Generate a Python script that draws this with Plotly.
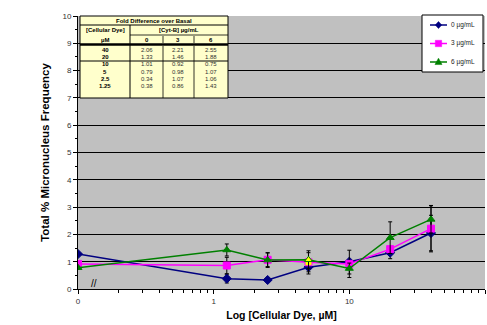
import plotly.graph_objects as go

# ---- data ----
dye_uM = [0.1, 1.25, 2.5, 5, 10, 20, 40]   # 0.1 plotted position stands for "0"
series_names = ["0 µg/mL", "3 µg/mL", "6 µg/mL"]
mn_0 = [1.28, 0.38, 0.33, 0.80, 1.00, 1.33, 2.05]
mn_3 = [0.92, 0.86, 1.07, 0.98, 0.92, 1.46, 2.21]
mn_6 = [0.78, 1.43, 1.06, 1.07, 0.75, 1.88, 2.55]
err_0 = [0.0, 0.16, 0.05, 0.25, 0.05, 0.22, 0.65]
err_3 = [0.0, 0.30, 0.25, 0.35, 0.50, 0.10, 0.85]
err_6 = [0.0, 0.22, 0.27, 0.33, 0.20, 0.58, 0.50]

x_tickvals = [0.1, 1, 10, 100]
x_ticktext = ["0", "1", "10", "100"]

table_title = "Fold Difference over Basal"
table_dye = ["40", "20", "10", "5", "2.5", "1.25"]
table_cols = ["0", "3", "6"]
table_vals = [
    ["2.06", "2.21", "2.55"],
    ["1.33", "1.46", "1.88"],
    ["1.01", "0.92", "0.75"],
    ["0.79", "0.98", "1.07"],
    ["0.34", "1.07", "1.06"],
    ["0.38", "0.86", "1.43"],
]

colors = ["#000080", "#FF00FF", "#008000"]
symbols = ["diamond", "square", "triangle-up"]
highlight_idx = 3  # point drawn with yellow fill (selected look)

# ---- geometry helpers (pixel -> paper) ----
L, R, T, B = 78, 485, 16, 289
W, H = 487, 325
def px(x):
    return (x - L) / (R - L)
def py(y):
    return (B - y) / (B - T)

fig = go.Figure()
for k, (name, ys, es, c, s) in enumerate(zip(series_names, [mn_0, mn_3, mn_6], [err_0, err_3, err_6], colors, symbols)):
    fills = [c] * len(ys)
    if k > 0:
        fills[highlight_idx] = "#FFFF00"
    fig.add_trace(go.Scatter(
        x=dye_uM, y=ys, name=name, mode="lines+markers",
        line=dict(color=c, width=1.5),
        marker=dict(symbol=s, size=7, color=fills, line=dict(color=c, width=1)),
        error_y=dict(type="data", array=es, visible=True, color="black", thickness=1, width=2),
    ))

shapes = []
annots = []
# table background
shapes.append(dict(type="rect", xref="paper", yref="paper", x0=px(80), x1=px(228), y0=py(98), y1=py(16),
                   fillcolor="#FFFFCC", line=dict(color="black", width=1), layer="above"))
def hline(y, x0, x1, w=1, color="black"):
    shapes.append(dict(type="line", xref="paper", yref="paper", x0=px(x0), x1=px(x1), y0=py(y), y1=py(y),
                       line=dict(color=color, width=w), layer="above"))
def vline(x, y0, y1, w=1):
    shapes.append(dict(type="line", xref="paper", yref="paper", x0=px(x), x1=px(x), y0=py(y0), y1=py(y1),
                       line=dict(color="black", width=w), layer="above"))
hline(25, 80, 228)
hline(35, 130, 228, 0.8)
hline(44.5, 80, 228, 2.5)
hline(61, 80, 228)
vline(130, 25, 98)
vline(163, 36, 43, 0.8)
vline(194, 36, 43, 0.8)
vline(163, 46, 98, 0.8)
vline(194, 46, 98, 0.8)

def txt(x, y, t, bold=False, size=6, color="#222222", anchor="center"):
    annots.append(dict(xref="paper", yref="paper", x=px(x), y=py(y), text=("<b>%s</b>" % t) if bold else t,
                       showarrow=False, xanchor=anchor, yanchor="middle",
                       font=dict(family="Liberation Sans, Arial", size=size, color=color)))
txt(154, 20.5, table_title, bold=True, color="black")
txt(105, 30, "[Cellular Dye]", bold=True, color="black")
txt(105, 40, "µM", bold=True, color="black")
txt(179, 30, "[Cyt-B] µg/mL", bold=True, color="black")
col_x = [147, 178, 211]
for cx, ct in zip(col_x, table_cols):
    txt(cx, 40, ct, bold=True, color="black")
row_y = [50, 57, 64, 72, 79, 86]
for ry, d, vals in zip(row_y, table_dye, table_vals):
    txt(105, ry, d, bold=True, color="black")
    for cx, v in zip(col_x, vals):
        txt(cx, ry, v, color="#333333")

# ---- custom legend ----
shapes.append(dict(type="rect", xref="paper", yref="paper", x0=px(422), x1=px(483), y0=py(72), y1=py(15),
                   fillcolor="white", line=dict(color="black", width=1), layer="above"))
leg_y = [25, 43.5, 62]
def marker_path(sym, cx, cy, r=3.2):
    if sym == "diamond":
        pts = [(cx, cy - r * 1.1), (cx + r, cy), (cx, cy + r * 1.1), (cx - r, cy)]
    elif sym == "square":
        pts = [(cx - r, cy - r), (cx + r, cy - r), (cx + r, cy + r), (cx - r, cy + r)]
    else:
        pts = [(cx, cy - r * 1.2), (cx + r * 1.1, cy + r * 0.8), (cx - r * 1.1, cy + r * 0.8)]
    return "M " + " L ".join("%f,%f" % (px(a), py(b)) for a, b in pts) + " Z"
for ly, name, c, s in zip(leg_y, series_names, colors, symbols):
    hline(ly, 430, 447, 1.5, c)
    shapes.append(dict(type="path", xref="paper", yref="paper", path=marker_path(s, 438.5, ly),
                       fillcolor=c, line=dict(color=c, width=0.5), layer="above"))
    txt(448.5, ly, name, size=6.5, color="#222222", anchor="left")

# axis break marker
annots.append(dict(xref="paper", yref="paper", x=px(89), y=py(290.5), text="//", showarrow=False,
                   font=dict(family="Liberation Sans, Arial", size=10, color="black")))

fig.update_layout(
    width=W, height=H,
    margin=dict(l=L, r=W - R, t=T, b=H - B),
    paper_bgcolor="white", plot_bgcolor="#C0C0C0",
    font=dict(family="Liberation Sans, Arial", size=9, color="black"),
    showlegend=False,
    shapes=shapes, annotations=annots,
    xaxis=dict(type="log", range=[-1, 2], tickvals=x_tickvals, ticktext=x_ticktext,
               showgrid=False, zeroline=False, showline=True, linecolor="black",
               ticks="outside", ticklen=4, tickcolor="black",
               minor=dict(ticks="outside", ticklen=3, tickcolor="black", dtick="D1", showgrid=False),
               tickfont=dict(size=8, color="#333333"),
               title=dict(text="<b>Log [Cellular Dye, µM]</b>", font=dict(size=10.5), standoff=7)),
    yaxis=dict(range=[0, 10], dtick=1, showgrid=True, gridcolor="black", gridwidth=1,
               zeroline=False, showline=True, linecolor="black",
               ticks="outside", ticklen=4, tickcolor="black",
               minor=dict(ticks="outside", ticklen=2, tickcolor="black", dtick=0.5, showgrid=False),
               tickfont=dict(size=8, color="#333333"),
               title=dict(text="<b>Total % Micronucleus Frequency</b>", font=dict(size=11.5), standoff=10)),
)

fig.write_html("out.html", config={"displayModeBar": False},
               post_script="document.body.style.margin='0';")
